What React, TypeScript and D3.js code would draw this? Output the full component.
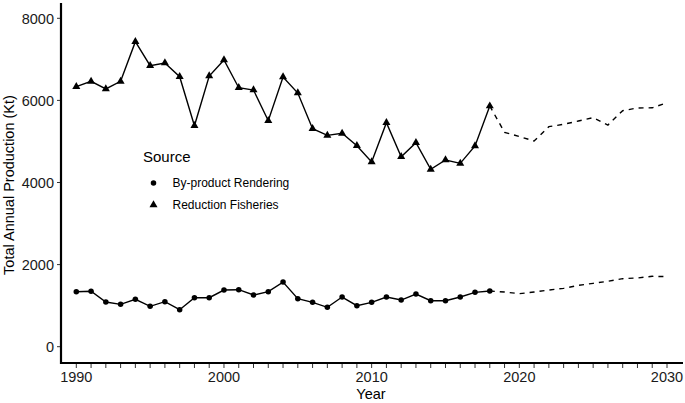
import React from "react";
import * as d3 from "d3";

const histYears = d3.range(1990, 2019);
const projYears = d3.range(2018, 2031);

const reductionValues = [
  6334, 6465, 6278, 6465, 7430, 6845, 6911, 6577, 5384, 6594, 6984, 6309, 6253,
  5506, 6570, 6180, 5311, 5149, 5198, 4897, 4499, 5457, 4629, 4970, 4321, 4548,
  4467, 4889, 5863,
];
const reductionProjection = [
  5863, 5222, 5120, 5011, 5360, 5418, 5498, 5580, 5400, 5750, 5815, 5820, 5944,
];
const renderingValues = [
  1340, 1350, 1089, 1032, 1154, 984, 1097, 901, 1194, 1194, 1381, 1389, 1259,
  1340, 1575, 1169, 1081, 959, 1210, 999, 1081, 1210, 1137, 1283, 1121, 1121,
  1210, 1324, 1357,
];
const renderingProjection = [
  1357, 1332, 1291, 1332, 1381, 1422, 1495, 1544, 1593, 1657, 1674, 1715, 1707,
];

const yTicks = [0, 2000, 4000, 6000, 8000];
const xLabelTicks = [1990, 2000, 2010, 2020, 2030];
const xMinorTicks = d3.range(1990, 2031);

const legendItems = ["By-product Rendering", "Reduction Fisheries"];

const W = 685;
const H = 403;
const FONT = "'Liberation Sans', Arial, sans-serif";

export default function App() {
  const x = d3.scaleLinear().domain([1990, 2030]).range([76.3, 667]);
  const y = d3.scaleLinear().domain([0, 8000]).range([346.7, 18.3]);

  const panelLeft = 61;
  const panelRight = 683;
  const panelTop = 3;
  const panelBottom = 363;

  const line = d3
    .line<[number, number]>()
    .x((d) => x(d[0]))
    .y((d) => y(d[1]));

  const zip = (yrs: number[], vals: number[]) =>
    yrs.map((yr, i) => [yr, vals[i]] as [number, number]);

  const redHist = zip(histYears, reductionValues);
  const redProj = zip(projYears, reductionProjection);
  const renHist = zip(histYears, renderingValues);
  const renProj = zip(projYears, renderingProjection);

  const tri = d3.symbol().type(d3.symbolTriangle).size(28)();
  const circ = d3.symbol().type(d3.symbolCircle).size(24)();

  return (
    <svg
      width={W}
      height={H}
      style={{ position: "absolute", left: 0, top: 0, background: "#fff" }}
      fontFamily={FONT}
    >
      <rect x={0} y={0} width={W} height={H} fill="#fff" />
      {/* lines */}
      <path d={line(redHist) || ""} fill="none" stroke="#000" strokeWidth={1.4} />
      <path
        d={line(redProj) || ""}
        fill="none"
        stroke="#000"
        strokeWidth={1.4}
        strokeDasharray="5,5"
      />
      <path d={line(renHist) || ""} fill="none" stroke="#000" strokeWidth={1.4} />
      <path
        d={line(renProj) || ""}
        fill="none"
        stroke="#000"
        strokeWidth={1.4}
        strokeDasharray="5,5"
      />
      {/* markers */}
      {redHist.map((d, i) => (
        <path key={"t" + i} d={tri || ""} transform={`translate(${x(d[0])},${y(d[1])})`} fill="#000" />
      ))}
      {renHist.map((d, i) => (
        <path key={"c" + i} d={circ || ""} transform={`translate(${x(d[0])},${y(d[1])})`} fill="#000" />
      ))}
      {/* axes */}
      <line x1={panelLeft} x2={panelLeft} y1={panelTop} y2={panelBottom + 1} stroke="#000" strokeWidth={2.2} />
      <line x1={panelLeft - 1} x2={panelRight} y1={panelBottom} y2={panelBottom} stroke="#000" strokeWidth={2.2} />
      {yTicks.map((t) => (
        <g key={"y" + t}>
          <line x1={panelLeft - 4} x2={panelLeft - 1} y1={y(t)} y2={y(t)} stroke="#333" strokeWidth={1} />
          <text x={panelLeft - 7} y={y(t)} dy="0.36em" textAnchor="end" fontSize={14.5} fill="#1a1a1a">
            {t}
          </text>
        </g>
      ))}
      {xMinorTicks.map((t) => (
        <line key={"xm" + t} x1={x(t)} x2={x(t)} y1={panelBottom + 1} y2={panelBottom + 5} stroke="#333" strokeWidth={1} />
      ))}
      {xLabelTicks.map((t) => (
        <text key={"xl" + t} x={x(t)} y={382} textAnchor="middle" fontSize={14.5} fill="#1a1a1a">
          {t}
        </text>
      ))}
      <text x={371} y={399} textAnchor="middle" fontSize={14.5} fill="#000">
        Year
      </text>
      <text
        transform={`translate(14,${(panelTop + panelBottom) / 2 + 2}) rotate(-90)`}
        textAnchor="middle"
        fontSize={14.5}
        fill="#000"
      >
        Total Annual Production (Kt)
      </text>
      {/* legend */}
      <text x={143} y={162} fontSize={15} fill="#000">
        Source
      </text>
      {legendItems.map((item, i) => (
        <g key={item} transform={`translate(0,${183 + i * 22})`}>
          <path
            d={(i === 0 ? circ : tri) || ""}
            transform="translate(153.5,0)"
            fill="#000"
          />
          <text x={172.5} y={0} dy="0.36em" fontSize={12} fill="#000">
            {item}
          </text>
        </g>
      ))}
    </svg>
  );
}
